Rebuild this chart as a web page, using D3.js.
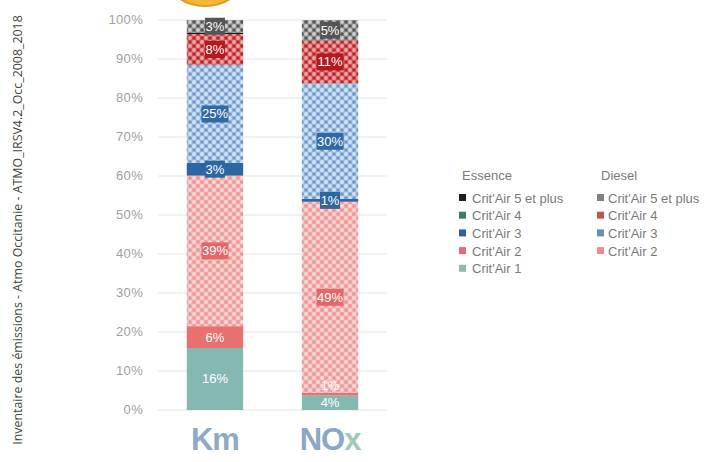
<!DOCTYPE html>
<html><head><meta charset="utf-8">
<script src="https://cdn.jsdelivr.net/npm/d3@7"></script>
<style>body{margin:0;background:#fff;}svg{display:block;}</style>
</head><body>
<svg id="chart" width="705" height="462"></svg>
<script>
const categories = ["Km", "NOx"];
const seriesNames = ["E1","E2","D2","E3","D3","E4","D4","E5","D5"];
const seriesFuel = ["Essence","Essence","Diesel","Essence","Diesel","Essence","Diesel","Essence","Diesel"];
const seriesLabel = ["Crit'Air 1","Crit'Air 2","Crit'Air 2","Crit'Air 3","Crit'Air 3","Crit'Air 4","Crit'Air 4","Crit'Air 5 et plus","Crit'Air 5 et plus"];
const kmValues  = [15.9, 5.6, 38.6, 3.3, 25.0, 0.1, 7.9, 0.4, 3.2];
const noxValues = [3.8, 0.6, 49.0, 0.7, 29.6, 0.1, 10.9, 0.1, 5.2];
const yTicks = [0,10,20,30,40,50,60,70,80,90,100];
const essenceLegend = ["E5","E4","E3","E2","E1"];
const dieselLegend = ["D5","D4","D3","D2"];
const sideText = "Inventaire des émissions - Atmo Occitanie - ATMO_IRSV4.2_Occ_2008_2018";

const solid = {E1:"#86b8b2", E2:"#e8706e", E3:"#2c66a3", E4:"#3f7a6c", E5:"#1e1e1e"};
const pat = {
  D2:{bg:"#f5b0ae", lt:"#fbd9d8", dk:"#ef9391", box:"#e4676a"},
  D3:{bg:"#9dbde3", lt:"#d3e3f5", dk:"#6a96cb", box:"#2f6aa6"},
  D4:{bg:"#d8575b", lt:"#eea6a7", dk:"#b3272b", box:"#b3191d"},
  D5:{bg:"#8c8c8c", lt:"#cfcfcf", dk:"#555555", box:"#555555"}
};
const legendSolid = {E1:"#8fbab4", E2:"#e06b7a", E3:"#2b62a0", E4:"#3f7a6c", E5:"#1e1e1e"};

const svg = d3.select("#chart");
const defs = svg.append("defs");
Object.entries(pat).forEach(([k,p])=>{
  const g = defs.append("pattern").attr("id","p"+k).attr("patternUnits","userSpaceOnUse")
    .attr("width",8).attr("height",8);
  g.append("rect").attr("width",8).attr("height",8).attr("fill",p.bg);
  [[2,2],[6,6]].forEach(([x,y])=>g.append("circle").attr("cx",x).attr("cy",y).attr("r",1.9).attr("fill",p.lt));
  [[6,2],[2,6]].forEach(([x,y])=>g.append("circle").attr("cx",x).attr("cy",y).attr("r",1.6).attr("fill",p.dk));
});
const fillOf = k => solid[k] ? solid[k] : "url(#p"+k+")";

// logo fragment
svg.append("ellipse").attr("cx",205).attr("cy",-28).attr("rx",41).attr("ry",34)
  .attr("fill","#f3b833").attr("stroke","#e39a1c").attr("stroke-width",2);

// side text
svg.append("text").attr("transform","translate(22,230) rotate(-90)")
  .attr("text-anchor","middle").attr("font-family","'Open Sans', sans-serif")
  .attr("font-size",12.4).attr("fill","#444").text(sideText);

const y = d3.scaleLinear().domain([0,100]).range([410,20]);
const x = d3.scaleBand().domain(categories).range([158,387]).paddingInner(0.51).paddingOuter(0.25);

// grid
svg.append("g").selectAll("line").data(yTicks).join("line")
  .attr("x1",158).attr("x2",387).attr("y1",d=>y(d)).attr("y2",d=>y(d))
  .attr("stroke","#e4e4e4").attr("stroke-width",1);
svg.append("g").selectAll("text").data(yTicks).join("text")
  .attr("x",143).attr("y",d=>y(d)+4).attr("text-anchor","end")
  .attr("font-family","'Liberation Sans Narrow','Liberation Sans',sans-serif")
  .attr("font-size",13).attr("letter-spacing",0.3).attr("fill","#a0a0a0").text(d=>d+"%");

// stacked data
const rows = categories.map((c,i)=>{
  const o = {cat:c}; const vals = i===0?kmValues:noxValues;
  seriesNames.forEach((s,j)=>o[s]=vals[j]); return o;
});
const stack = d3.stack().keys(seriesNames)(rows);
const gBars = svg.append("g");
stack.forEach(layer=>{
  gBars.selectAll(null).data(layer).join("rect")
    .attr("x",d=>x(d.data.cat)).attr("width",x.bandwidth())
    .attr("y",d=>y(d[1])).attr("height",d=>Math.max(0,y(d[0])-y(d[1])))
    .attr("fill",fillOf(layer.key));
});
const gLab = svg.append("g").attr("font-family","'Liberation Sans Narrow','Liberation Sans',sans-serif")
  .attr("font-size",13);
stack.forEach(layer=>{
  const k = layer.key;
  layer.forEach(d=>{
    const v = d[1]-d[0];
    if (v < 0.5) return;
    const boxed = !!pat[k] || k==="E3";
    const cx = x(d.data.cat)+x.bandwidth()/2;
    let cy = y((d[0]+d[1])/2);
    if (!boxed && v < 2) cy = y(d[1]) - 7;
    const txt = Math.round(v)+"%";
    const w = txt.length*7+6;
    const boxColor = pat[k] ? pat[k].box : solid[k];
    if (boxed) {
      gLab.append("rect").attr("x",cx-w/2).attr("y",cy-8.5).attr("width",w).attr("height",17)
        .attr("fill",boxColor);
    }
    gLab.append("text").attr("x",cx).attr("y",cy+4.5).attr("text-anchor","middle")
      .attr("fill","#fff").text(txt);
  });
});

// category labels
const catG = svg.append("g").attr("font-family","'Liberation Sans',Arial,sans-serif")
  .attr("font-weight","bold").attr("font-size",31).attr("text-anchor","middle");
catG.append("text").attr("x",x("Km")+x.bandwidth()/2).attr("y",450).attr("fill","#8eabc6").attr("letter-spacing",-1).text("Km");
const nt = catG.append("text").attr("x",x("NOx")+x.bandwidth()/2).attr("y",450).attr("letter-spacing",-1);
nt.append("tspan").attr("fill","#8aa6c8").text("NO");
nt.append("tspan").attr("fill","#9fcab6").text("x");

// legend
const lg = svg.append("g").attr("font-family","'Liberation Sans',Arial,sans-serif").attr("font-size",13).attr("fill","#7a7a7a");
lg.append("text").attr("x",462).attr("y",180).text("Essence");
lg.append("text").attr("x",601).attr("y",180).text("Diesel");
essenceLegend.forEach((k,i)=>{
  const yy = 198 + i*17.7;
  lg.append("rect").attr("x",459).attr("y",yy-4).attr("width",7).attr("height",7).attr("fill",legendSolid[k]);
  lg.append("text").attr("x",472).attr("y",yy+4.5).text(seriesLabel[seriesNames.indexOf(k)]);
});
dieselLegend.forEach((k,i)=>{
  const yy = 198 + i*17.7;
  lg.append("rect").attr("x",597).attr("y",yy-4).attr("width",7).attr("height",7).attr("fill",pat[k].box).attr("opacity",0.75);
  lg.append("text").attr("x",608).attr("y",yy+4.5).text(seriesLabel[seriesNames.indexOf(k)]);
});
</script>
</body></html>
